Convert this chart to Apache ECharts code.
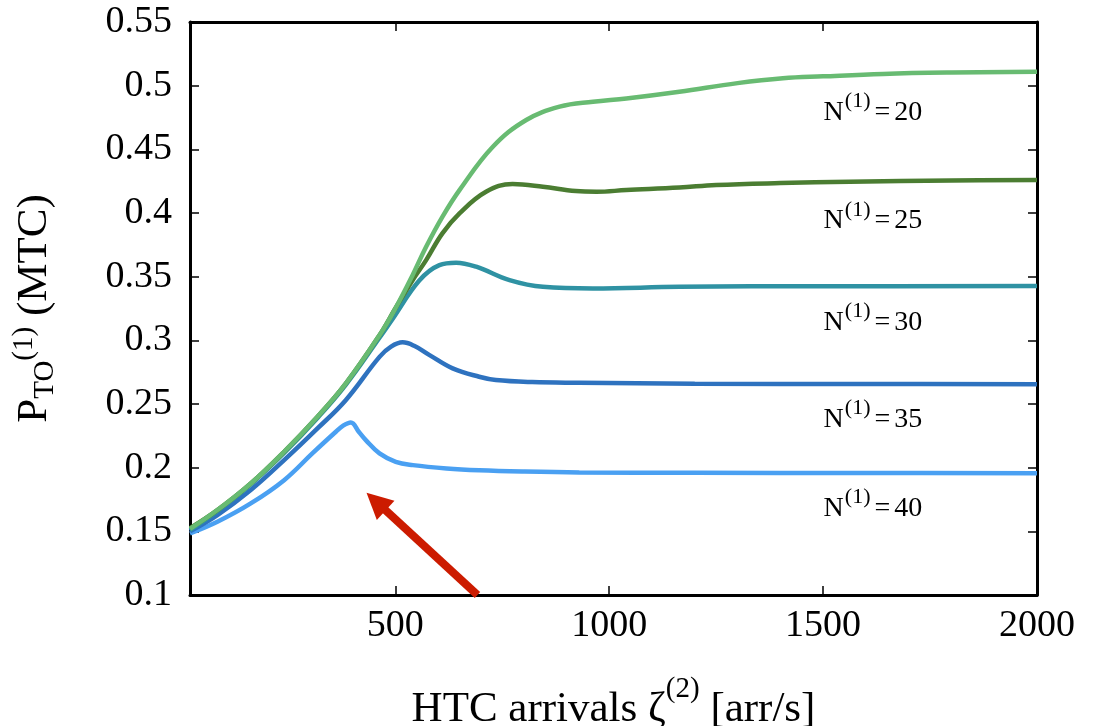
<!DOCTYPE html>
<html>
<head>
<meta charset="utf-8">
<script src="https://cdn.jsdelivr.net/npm/echarts@6/dist/echarts.min.js"></script>
<style>
  html, body { margin: 0; padding: 0; background: #fff; }
  #chart { width: 1107px; height: 726px; }
</style>
</head>
<body>
<div id="chart"></div>
<script>
// x ticks and label values
const xTicks = [500, 1000, 1500, 2000];
const xMin = 20, xMax = 2000;

// N(1)=20
const x20 = [20, 84, 162, 240, 318, 384, 463, 500, 540, 572, 610, 650, 728, 806, 884, 962, 1040, 1164, 1300, 1406, 1500, 1640, 1800, 2000];
const y20 = [0.152, 0.1667, 0.1876, 0.2125, 0.240, 0.266, 0.304, 0.325, 0.351, 0.3735, 0.397, 0.418, 0.452, 0.473, 0.4835, 0.4874, 0.490, 0.4953, 0.502, 0.5058, 0.5073, 0.5092, 0.5103, 0.511];
// N(1)=25
const x25 = [20, 84, 162, 240, 318, 384, 463, 500, 540, 572, 610, 650, 712, 774, 845, 922, 970, 1040, 1164, 1250, 1400, 1562, 1800, 2000];
const y25 = [0.1525, 0.1667, 0.1876, 0.2125, 0.240, 0.266, 0.304, 0.325, 0.347, 0.363, 0.384, 0.3997, 0.4167, 0.4227, 0.4206, 0.4172, 0.4167, 0.418, 0.420, 0.422, 0.4235, 0.4245, 0.4255, 0.4259];
// N(1)=30
const x30 = [20, 84, 162, 240, 318, 384, 463, 494, 556, 603, 642, 689, 767, 845, 962, 1164, 1500, 2000];
const y30 = [0.151, 0.166, 0.187, 0.2115, 0.239, 0.265, 0.302, 0.317, 0.347, 0.3591, 0.361, 0.3578, 0.3473, 0.342, 0.3408, 0.342, 0.3425, 0.3426];
// N(1)=35
const x35 = [20, 84, 162, 240, 318, 384, 463, 490, 517, 545, 580, 634, 696, 735, 820, 930, 1200, 1600, 2000];
const y35 = [0.150, 0.1627, 0.1824, 0.2059, 0.2308, 0.253, 0.287, 0.295, 0.2984, 0.2955, 0.2884, 0.278, 0.2714, 0.2688, 0.2672, 0.2667, 0.266, 0.2657, 0.2656];
// N(1)=40
const x40 = [20, 84, 162, 240, 306, 361, 378, 396, 415, 431, 463, 501, 541, 620, 696, 800, 930, 1200, 1600, 2000];
const y40 = [0.1483, 0.1575, 0.1719, 0.1902, 0.2112, 0.2282, 0.233, 0.2355, 0.228, 0.2216, 0.2112, 0.2046, 0.202, 0.1994, 0.198, 0.197, 0.1963, 0.196, 0.1958, 0.1957];

const nValues = ['20', '25', '30', '35', '40'];
const labelX = 1500;
const labelY = [0.482, 0.397, 0.317, 0.241, 0.171];

// arrow: tail -> head (data coords)
const arrowFrom = [692, 0.1];
const arrowTo = [455, 0.1734];

const colors = ['#68bb72', '#4b7d32', '#2f92a3', '#2e72bf', '#4aa0f2'];
const xs = [x20, x25, x30, x35, x40];
const ys = [y20, y25, y30, y35, y40];

const FONT = 'Liberation Serif';

const chart = echarts.init(document.getElementById('chart'), null, { renderer: 'canvas' });

const pairs = (xa, ya) => xa.map((x, i) => [x, ya[i]]);

const series = nValues.map((n, i) => {
    const s = {
        name: 'N=' + n,
        type: 'line',
        data: pairs(xs[i], ys[i]),
        showSymbol: false,
        smooth: 0.4,
        lineStyle: { color: colors[i], width: 4.5 },
        itemStyle: { color: colors[i] },
        z: 10 - i,
        markPoint: {
            symbol: 'circle',
            symbolSize: 1,
            itemStyle: { color: 'transparent' },
            label: {
                show: true,
                position: 'right',
                distance: 0,
                formatter: '{n|N}{sup|(1)}{eq|=}{n|' + n + '}',
                rich: {
                    n: { fontFamily: FONT, fontSize: 28, color: '#000', lineHeight: 36, verticalAlign: 'bottom' },
                    eq: { fontFamily: FONT, fontSize: 28, color: '#000', lineHeight: 36, verticalAlign: 'bottom', padding: [0, 4, 0, 4] },
                    sup: { fontFamily: FONT, fontSize: 22, color: '#000', lineHeight: 20, verticalAlign: 'top', padding: [0, 0, 0, 1] }
                }
            },
            data: [{ coord: [labelX, labelY[i]] }]
        }
    };
    if (i === 4) {
        s.markLine = {
            silent: true,
            symbol: ['none', 'triangle'],
            symbolSize: 26,
            label: { show: false },
            lineStyle: { color: '#cc1b00', width: 8, type: 'solid' },
            itemStyle: { color: '#cc1b00' },
            data: [[{ coord: arrowFrom }, { coord: arrowTo }]]
        };
    }
    return s;
});

const tickStyle = { show: true, inside: true, length: 9, lineStyle: { color: '#000', width: 1.5 } };
const lineStyle = { show: true, onZero: false, lineStyle: { color: '#000', width: 3 } };

const option = {
    animation: false,
    backgroundColor: '#fff',
    grid: { left: 190, right: 70, top: 22, bottom: 131, outerBoundsMode: 'none', containLabel: false },
    xAxis: [{
        type: 'value', min: xMin, max: xMax, position: 'bottom',
        axisLine: lineStyle,
        axisTick: Object.assign({ customValues: xTicks }, tickStyle),
        axisLabel: { customValues: xTicks, fontFamily: FONT, fontSize: 38, color: '#000', margin: 12, formatter: v => String(v) },
        splitLine: { show: false },
        name: '{m|HTC arrivals ζ}{sup|(2)}{m| [arr/s]}',
        nameLocation: 'middle',
        nameGap: 80,
        nameTextStyle: {
            rich: {
                m: { fontFamily: FONT, fontSize: 43, color: '#000', lineHeight: 56, verticalAlign: 'bottom' },
                sup: { fontFamily: FONT, fontSize: 29, color: '#000', lineHeight: 30, verticalAlign: 'top' }
            }
        }
    }, {
        type: 'value', min: xMin, max: xMax, position: 'top',
        axisLine: lineStyle,
        axisTick: Object.assign({ customValues: xTicks }, tickStyle),
        axisLabel: { show: false },
        splitLine: { show: false }
    }],
    yAxis: [{
        type: 'value', min: 0.1, max: 0.55, interval: 0.05, position: 'left',
        axisLine: lineStyle,
        axisTick: tickStyle,
        axisLabel: {
            fontFamily: FONT, fontSize: 38, color: '#000', margin: 18,
            formatter: v => String(+v.toFixed(2))
        },
        splitLine: { show: false },
        name: '{m|P}{sub|TO}{sup|(1)}{m| (MTC)}',
        nameLocation: 'middle',
        nameRotate: 90,
        nameGap: 130,
        nameTextStyle: {
            rich: {
                m: { fontFamily: FONT, fontSize: 43, color: '#000', lineHeight: 50, verticalAlign: 'middle' },
                sub: { fontFamily: FONT, fontSize: 29, color: '#000', lineHeight: 24, verticalAlign: 'bottom' },
                sup: { fontFamily: FONT, fontSize: 29, color: '#000', lineHeight: 26, verticalAlign: 'top' }
            }
        }
    }, {
        type: 'value', min: 0.1, max: 0.55, interval: 0.05, position: 'right',
        axisLine: lineStyle,
        axisTick: tickStyle,
        axisLabel: { show: false },
        splitLine: { show: false }
    }],
    series: series
};

chart.setOption(option);
</script>
</body>
</html>
